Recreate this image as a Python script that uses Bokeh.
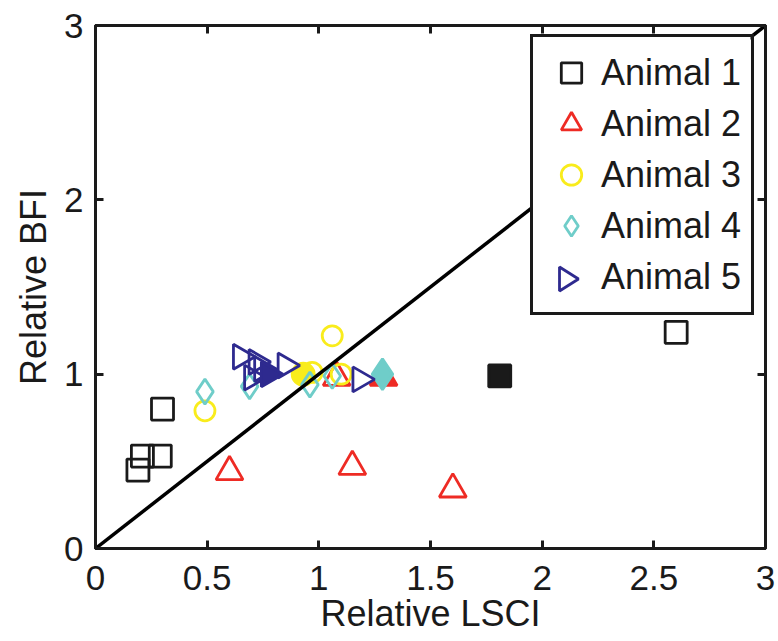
import math
from bokeh.plotting import figure
from bokeh.models import (LinearAxis, FixedTicker, Legend, LegendItem, Range1d,
                          PolyAnnotation, CustomLabelingPolicy)
from bokeh.embed import file_html
from bokeh.resources import INLINE

# ---------------- data ----------------
x_ticks = [0, 0.5, 1, 1.5, 2, 2.5, 3]
x_tick_labels = ["0", "0.5", "1", "1.5", "2", "2.5", "3"]
y_ticks = [0, 1, 2, 3]
y_tick_labels = ["0", "1", "2", "3"]

animal_names = ["Animal 1", "Animal 2", "Animal 3", "Animal 4", "Animal 5"]

# Animal 1 (squares)
a1_x = [0.19, 0.21, 0.29, 0.30, 2.60]
a1_y = [0.45, 0.53, 0.53, 0.80, 1.24]
a1_fill_x = [1.81]
a1_fill_y = [0.99]

# Animal 2 (triangles)
a2_x = [0.60, 1.15, 1.60, 1.08]
a2_y = [0.44, 0.47, 0.34, 0.98]
a2_fill_x = [1.29]
a2_fill_y = [0.98]

# Animal 3 (circles)
a3_x = [0.49, 0.97, 1.06, 1.10]
a3_y = [0.79, 1.01, 1.22, 1.00]
a3_fill_x = [0.93]
a3_fill_y = [1.00]

# Animal 4 (diamonds)
a4_x = [0.49, 0.69, 0.96, 1.06]
a4_y = [0.90, 0.93, 0.94, 0.99]
a4_fill_x = [1.285]
a4_fill_y = [1.00]

# Animal 5 (right-pointing triangles)
a5_x = [0.65, 0.72, 0.70, 0.745, 0.85, 1.185]
a5_y = [1.10, 1.07, 0.98, 1.03, 1.05, 0.97]
a5_fill_x = [0.775]
a5_fill_y = [1.00]

identity_x = [0, 3]
identity_y = [0, 3]

# ---------------- style ----------------
FONT = "Liberation Sans"
BLACK = "#1a1a1a"
RED = "#ee2b24"
YELLOW = "#f9ec1c"
CYAN = "#6fcdc9"
BLUE = "#2e2a8f"

FRAME_W, FRAME_H = 670, 523

p = figure(frame_width=FRAME_W, frame_height=FRAME_H,
           x_range=Range1d(0, 3), y_range=Range1d(0, 3),
           output_backend="svg", toolbar_location=None,
           min_border_left=95, min_border_right=13,
           min_border_top=25, min_border_bottom=93,
           background_fill_color="white", border_fill_color="white")
p.grid.visible = False
p.outline_line_color = BLACK
p.outline_line_width = 3

xt = FixedTicker(ticks=x_ticks)
yt = FixedTicker(ticks=y_ticks)

xax = p.below[0]
yax = p.left[0]
xax.ticker = xt
yax.ticker = yt
xax.major_label_overrides = {t: l for t, l in zip(x_ticks, x_tick_labels)}
yax.major_label_overrides = {t: l for t, l in zip(y_ticks, y_tick_labels)}
xax.axis_label = "Relative LSCI"
yax.axis_label = "Relative BFI"

hide_labels = CustomLabelingPolicy(code="""
try { for (let i = 0; i < indices.size; i++) { indices.unset(i) } } catch (e) {}
return indices
""")
top_ax = LinearAxis(ticker=xt, major_label_text_font_size="0px",
                    major_label_standoff=0, major_label_policy=hide_labels)
right_ax = LinearAxis(ticker=yt, major_label_text_font_size="0px",
                      major_label_standoff=0, major_label_policy=hide_labels)
p.add_layout(top_ax, "above")
p.add_layout(right_ax, "right")

for ax in [xax, yax, top_ax, right_ax]:
    ax.axis_line_color = BLACK
    ax.axis_line_width = 3
    ax.major_tick_line_color = BLACK
    ax.major_tick_line_width = 3
    ax.major_tick_in = 8
    ax.major_tick_out = 0
    ax.minor_tick_line_color = None
    ax.major_label_text_font = FONT
    ax.major_label_text_color = BLACK
    ax.axis_label_text_font = FONT
    ax.axis_label_text_font_style = "normal"
    ax.axis_label_text_color = BLACK

for ax in [xax, yax]:
    ax.major_label_text_font_size = "35px"
    ax.axis_label_text_font_size = "36px"
xax.major_label_standoff = 17
xax.axis_label_standoff = 0
yax.major_label_standoff = 12
yax.axis_label_standoff = 7

LW = 2.8

r1 = p.scatter(a1_x, a1_y, marker="square", size=22, fill_color=None,
               line_color=BLACK, line_width=LW)
p.scatter(a1_fill_x, a1_fill_y, marker="square", size=22, fill_color=BLACK,
          line_color=BLACK, line_width=LW)

p.scatter(a2_fill_x, a2_fill_y, marker="triangle", size=27, fill_color=RED,
          line_color=RED, line_width=LW)
r2 = p.scatter(a2_x, a2_y, marker="triangle", size=27, fill_color=None,
               line_color=RED, line_width=LW)

r3 = p.scatter(a3_x, a3_y, marker="circle", size=20, fill_color=None,
               line_color=YELLOW, line_width=LW)
p.scatter(a3_fill_x, a3_fill_y, marker="circle", size=22, fill_color=YELLOW,
          line_color=YELLOW, line_width=LW)

r4 = p.scatter(a4_x, a4_y, marker="diamond", size=25, fill_color=None,
               line_color=CYAN, line_width=LW)
p.scatter(a4_fill_x, a4_fill_y, marker="diamond", size=31, fill_color=CYAN,
          line_color=CYAN, line_width=LW)

p.scatter(a5_x, a5_y, marker="triangle", angle=-math.pi / 2, size=25,
          fill_color=None, line_color=BLUE, line_width=LW)
p.scatter(a5_fill_x, a5_fill_y, marker="triangle", angle=-math.pi / 2, size=25,
          fill_color=BLUE, line_color=BLUE, line_width=LW)
# invisible key renderer for the "Animal 5" legend entry (symbol drawn below)
r5 = p.scatter(a5_x, a5_y, marker="triangle", size=0,
               fill_alpha=0, line_alpha=0)

p.line(identity_x, identity_y, line_color="black", line_width=3.5)

# ---------------- legend ----------------
LEG_X, LEG_Y = 435, 233          # bottom-left of legend box (frame screen units)
LEG_W, LEG_H = 220, 279          # approx. rendered legend box size
PAD, GW, GH = 10, 56, 51

# opaque white background for the legend box (drawn under the legend)
leg_bg = PolyAnnotation(xs=[LEG_X, LEG_X + LEG_W, LEG_X + LEG_W, LEG_X],
                        ys=[LEG_Y, LEG_Y, LEG_Y + LEG_H, LEG_Y + LEG_H],
                        xs_units="screen", ys_units="screen",
                        fill_color="white", fill_alpha=1,
                        line_color=None, line_alpha=0)
p.add_layout(leg_bg)

# right-pointing triangle symbol for the "Animal 5" legend entry
cx = LEG_X + PAD + GW / 2
cy = LEG_Y + PAD + GH / 2 + 1
key5 = PolyAnnotation(xs=[cx - 9, cx - 9, cx + 10],
                      ys=[cy - 12, cy + 12, cy],
                      xs_units="screen", ys_units="screen",
                      fill_color=None, fill_alpha=0,
                      line_color=BLUE, line_alpha=1, line_width=LW)
p.add_layout(key5)

legend = Legend(items=[LegendItem(label=n, renderers=[r])
                       for n, r in zip(animal_names, [r1, r2, r3, r4, r5])],
                location=(LEG_X, LEG_Y))
legend.label_text_font = FONT
legend.label_text_font_size = "36px"
legend.label_text_color = BLACK
legend.glyph_width = GW
legend.glyph_height = GH
legend.label_height = GH
legend.label_standoff = 2
legend.spacing = 0
legend.padding = PAD
legend.margin = 0
legend.border_line_color = BLACK
legend.border_line_alpha = 1
legend.border_line_width = 3
legend.background_fill_alpha = 0
p.add_layout(legend)

open("out.html", "w").write(file_html(p, INLINE))
